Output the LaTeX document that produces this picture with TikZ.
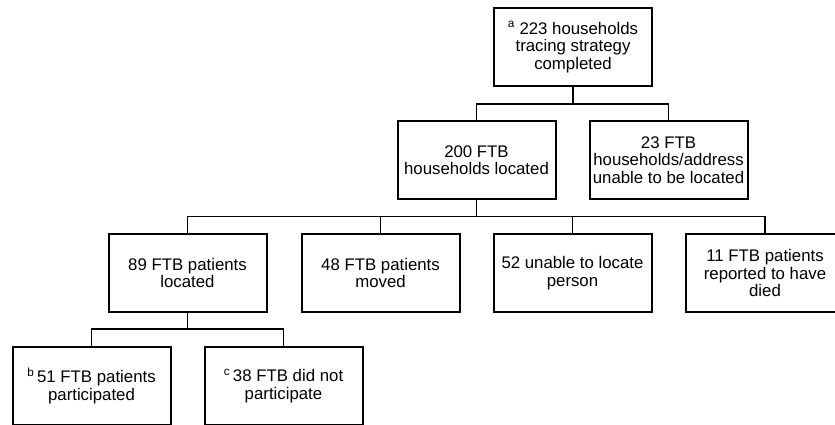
\documentclass[tikz,border=0pt]{standalone}
\usepackage{fontspec}
\setmainfont{Liberation Sans}
\begin{document}
\begin{tikzpicture}[x=1pt,y=-1pt,
  box/.style={draw,line width=2pt,minimum width=158pt,minimum height=78pt,align=center,
    inner sep=0pt,font=\fontsize{16.8}{17.5}\selectfont},
  conn/.style={line width=1.9pt}]
\useasboundingbox (0,0) rectangle (835,424);
\clip (0,0) rectangle (835,424);
\node[box] (top) at (573,47) {\textsuperscript{a} 223 households\\tracing strategy\\completed};
\node[box] (loc) at (476.5,160) {200 FTB\\households located};
\node[box] (unl) at (668.5,160) {23 FTB\\households/address\\unable to be located};
\node[box] (pl) at (187.5,273) {89 FTB patients\\located};
\node[box] (mv) at (380.5,273) {48 FTB patients\\moved};
\node[box] (up) at (572.5,273) {52 unable to locate\\person};
\node[box] (died) at (765,273) {11 FTB patients\\reported to have\\died};
\node[box] (part) at (91.5,386) {\textsuperscript{b}\,51 FTB patients\\participated};
\node[box] (npart) at (283.5,386) {\textsuperscript{c}\,38 FTB did not\\participate};
\coordinate (b1) at (0,104);
\coordinate (b2) at (0,216.5);
\coordinate (b3) at (0,329);
\draw[conn] (top.south) -- (top.south |- b1);
\draw[conn] (loc.north) |- (top.south |- b1) -| (unl.north);
\draw[conn] (loc.south) -- (loc.south |- b2);
\draw[conn] (pl.north) |- (loc.south |- b2) -| (died.north);
\draw[conn] (mv.north) -- (mv.north |- b2);
\draw[conn] (up.north) -- (up.north |- b2);
\draw[conn] (pl.south) -- (pl.south |- b3);
\draw[conn] (part.north) |- (pl.south |- b3) -| (npart.north);
\end{tikzpicture}
\end{document}
